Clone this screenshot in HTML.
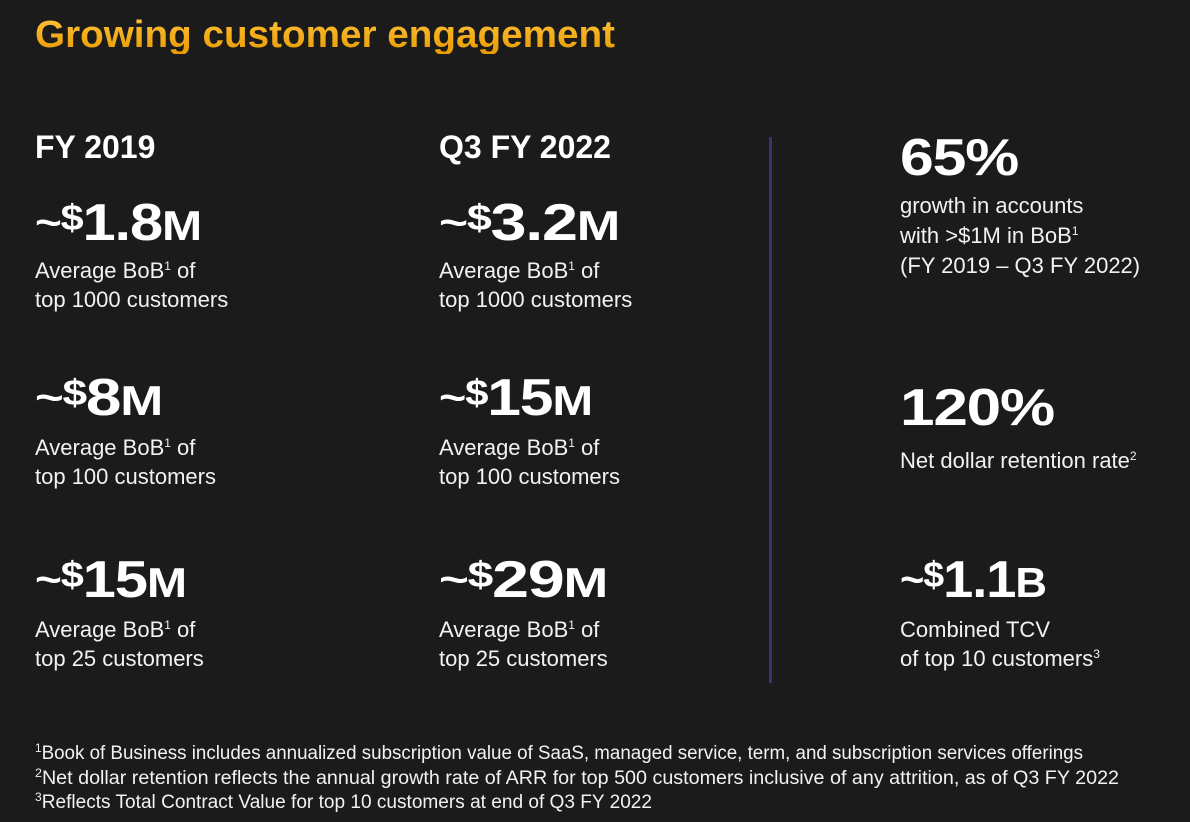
<!DOCTYPE html>
<html><head><meta charset="utf-8">
<style>
html,body{margin:0;padding:0}
body{width:1190px;height:822px;background:#1b1b1b;position:relative;overflow:hidden;font-family:"Liberation Sans",sans-serif;color:#fff}
.t{position:absolute;line-height:1;white-space:nowrap;transform-origin:0 0}
.title{font-weight:bold;font-size:38px;color:#f5a316;background:linear-gradient(#ffc23a,#e89a00);-webkit-background-clip:text;background-clip:text;color:transparent}
.hd{font-weight:bold;font-size:32px}
.num{font-weight:bold;font-size:52px;letter-spacing:-1px}
.num .s{font-size:36px;vertical-align:10px}
.num .tl{font-size:40px;vertical-align:4px}
.num .u{font-size:42px}
.sub{font-size:22px;color:#f2f2f2}
sup{font-size:12px;vertical-align:8px;line-height:0}
.fn{font-size:19px;color:#f2f2f2}
.fn sup{font-size:12px;vertical-align:7px}
.div{position:absolute;left:769px;top:137px;width:3px;height:546px;background:#432c78}
</style></head><body>
<div class="t title" style="left:35px;top:16px" data-w="580">Growing customer engagement</div>

<div class="t hd" style="left:35px;top:131px">FY 2019</div>
<div class="t hd" style="left:439px;top:131px">Q3 FY 2022</div>

<div class="t num" style="left:35px;top:197px" data-w="166"><span class="tl">~</span><span class="s">$</span>1.8<span class="u">M</span></div>
<div class="t sub" style="left:35px;top:260px">Average BoB<sup>1</sup> of</div>
<div class="t sub" style="left:35px;top:289px">top 1000 customers</div>

<div class="t num" style="left:35px;top:372px" data-w="127"><span class="tl">~</span><span class="s">$</span>8<span class="u">M</span></div>
<div class="t sub" style="left:35px;top:437px">Average BoB<sup>1</sup> of</div>
<div class="t sub" style="left:35px;top:466px">top 100 customers</div>

<div class="t num" style="left:35px;top:554px" data-w="151"><span class="tl">~</span><span class="s">$</span>15<span class="u">M</span></div>
<div class="t sub" style="left:35px;top:619px">Average BoB<sup>1</sup> of</div>
<div class="t sub" style="left:35px;top:648px">top 25 customers</div>

<div class="t num" style="left:439px;top:197px" data-w="180"><span class="tl">~</span><span class="s">$</span>3.2<span class="u">M</span></div>
<div class="t sub" style="left:439px;top:260px">Average BoB<sup>1</sup> of</div>
<div class="t sub" style="left:439px;top:289px">top 1000 customers</div>

<div class="t num" style="left:439px;top:372px" data-w="153"><span class="tl">~</span><span class="s">$</span>15<span class="u">M</span></div>
<div class="t sub" style="left:439px;top:437px">Average BoB<sup>1</sup> of</div>
<div class="t sub" style="left:439px;top:466px">top 100 customers</div>

<div class="t num" style="left:439px;top:554px" data-w="168"><span class="tl">~</span><span class="s">$</span>29<span class="u">M</span></div>
<div class="t sub" style="left:439px;top:619px">Average BoB<sup>1</sup> of</div>
<div class="t sub" style="left:439px;top:648px">top 25 customers</div>

<div class="div"></div>

<div class="t num" style="left:900px;top:132px" data-w="118">65%</div>
<div class="t sub" style="left:900px;top:195px">growth in accounts</div>
<div class="t sub" style="left:900px;top:225px">with &gt;$1M in BoB<sup>1</sup></div>
<div class="t sub" style="left:900px;top:255px">(FY 2019 – Q3 FY 2022)</div>

<div class="t num" style="left:900px;top:382px" data-w="154">120%</div>
<div class="t sub" style="left:900px;top:450px">Net dollar retention rate<sup>2</sup></div>

<div class="t num" style="left:900px;top:554px" data-w="146"><span class="tl">~</span><span class="s">$</span>1.1<span class="u">B</span></div>
<div class="t sub" style="left:900px;top:619px">Combined TCV</div>
<div class="t sub" style="left:900px;top:648px">of top 10 customers<sup>3</sup></div>

<div class="t fn" style="left:35px;top:744px" data-w="1048"><sup>1</sup>Book of Business includes annualized subscription value of SaaS, managed service, term, and subscription services offerings</div>
<div class="t fn" style="left:35px;top:769px" data-w="1084"><sup>2</sup>Net dollar retention reflects the annual growth rate of ARR for top 500 customers inclusive of any attrition, as of Q3 FY 2022</div>
<div class="t fn" style="left:35px;top:793px" data-w="617"><sup>3</sup>Reflects Total Contract Value for top 10 customers at end of Q3 FY 2022</div>

<script>
document.querySelectorAll('[data-w]').forEach(function(el){
  var w=el.getBoundingClientRect().width, tw=+el.getAttribute('data-w');
  if(w>0) el.style.transform='scaleX('+(tw/w)+')';
});
</script>
</body></html>
